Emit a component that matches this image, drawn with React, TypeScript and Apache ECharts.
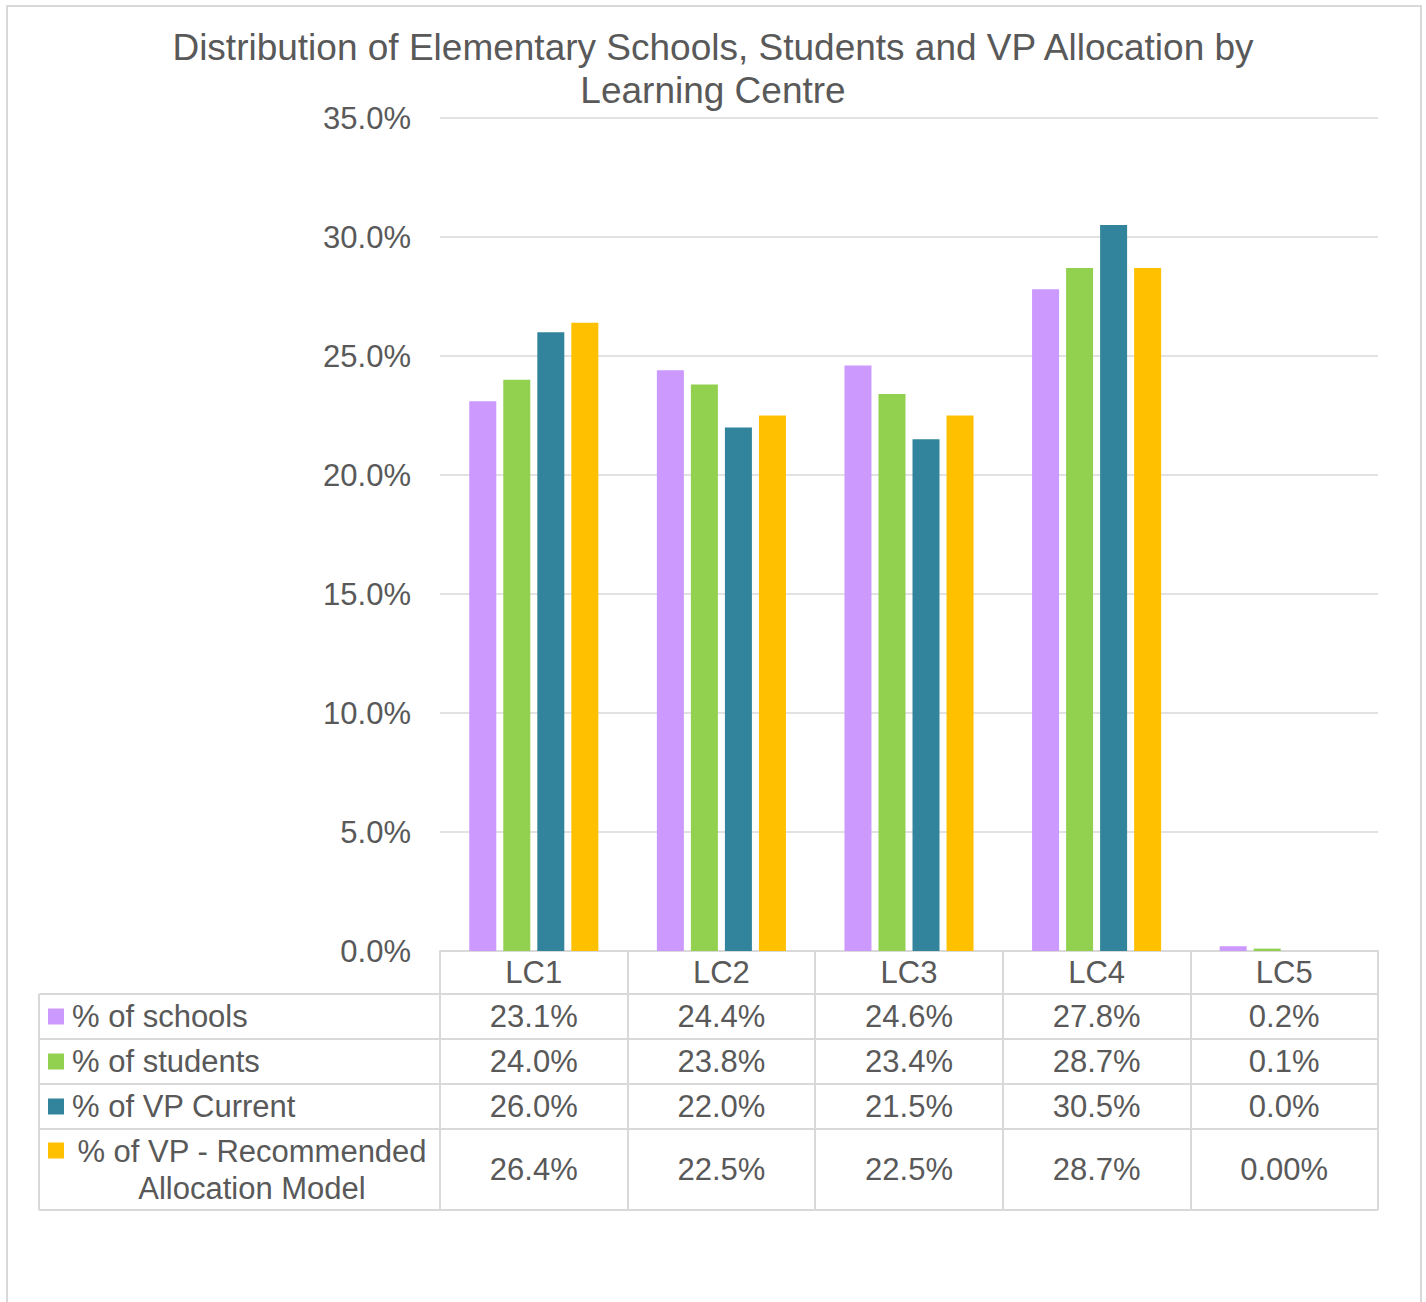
import React, { useEffect, useRef } from "react";
import * as echarts from "echarts";

const categories = ["LC1", "LC2", "LC3", "LC4", "LC5"];
const seriesNames = ["% of schools", "% of students", "% of VP Current", "% of VP - Recommended Allocation Model"];
const rowLabels = ["% of schools", "% of students", "% of VP Current", "% of VP - Recommended\nAllocation Model"];
const schools = [23.1, 24.4, 24.6, 27.8, 0.2];
const students = [24.0, 23.8, 23.4, 28.7, 0.1];
const vpCurrent = [26.0, 22.0, 21.5, 30.5, 0.0];
const vpRecommended = [26.4, 22.5, 22.5, 28.7, 0.0];
const rowDecimals = [
  [1, 1, 1, 1, 1],
  [1, 1, 1, 1, 1],
  [1, 1, 1, 1, 1],
  [1, 1, 1, 1, 2],
];
const colors = ["#CC99FF", "#92D050", "#31849B", "#FFC000"];
const yMin = 0;
const yMax = 35;
const yInterval = 5;

const FONT = "'Liberation Sans', Arial, sans-serif";
const TEXT = "#595959";
const LINE = "#D9D9D9";

export default function App() {
  const ref = useRef<HTMLDivElement>(null);
  useEffect(() => {
    if (!ref.current) return;
    const chart = echarts.init(ref.current, null, { renderer: "svg" });
    const seriesData = [schools, students, vpCurrent, vpRecommended];
    const gridLeft = 440;
    const gridRight = 1378;
    const axisY = 951;
    chart.setOption({
      animation: false,
      backgroundColor: "#fff",
      title: {
        text: "Distribution of Elementary Schools, Students and VP Allocation by\nLearning Centre",
        left: "center",
        top: 21,
        textStyle: { fontFamily: FONT, fontSize: 37, fontWeight: "normal", color: TEXT, lineHeight: 43 },
      },
      grid: { left: gridLeft, right: 1426 - gridRight, top: 118, bottom: 1302 - axisY, containLabel: false },
      xAxis: {
        type: "category",
        data: categories,
        axisLine: { show: true, lineStyle: { color: LINE, width: 2 } },
        axisTick: { show: true, length: 259, lineStyle: { color: LINE, width: 2 } },
        axisLabel: { fontFamily: FONT, fontSize: 31, color: TEXT, margin: 6, lineHeight: 31 },
      },
      yAxis: {
        type: "value",
        min: yMin,
        max: yMax,
        interval: yInterval,
        axisLine: { show: false },
        axisTick: { show: false },
        splitLine: { lineStyle: { color: LINE, width: 1.5 } },
        axisLabel: {
          fontFamily: FONT,
          fontSize: 31,
          color: TEXT,
          margin: 29,
          formatter: (v: number) => v.toFixed(1) + "%",
        },
      },
      series: seriesData.map((d, i) => ({
        type: "bar",
        name: seriesNames[i],
        data: d,
        barWidth: 27,
        barGap: "26%",
        itemStyle: { color: colors[i] },
      })),
    });

    const rowTops = [994, 1039, 1084, 1129];
    const tableBottom = 1210;
    const tableLeft = 39;
    const rowBottoms = [1039, 1084, 1129, tableBottom];
    const graphics: any[] = [];
    graphics.push({
      type: "rect",
      shape: { x: 7, y: 6, width: 1414, height: 1320 },
      style: { fill: "none", stroke: LINE, lineWidth: 2 },
      silent: true,
    });
    [...rowTops, tableBottom].forEach((y) => {
      graphics.push({
        type: "line",
        shape: { x1: tableLeft, y1: y, x2: gridRight, y2: y },
        style: { stroke: LINE, lineWidth: 2 },
      });
    });
    graphics.push({
      type: "line",
      shape: { x1: tableLeft, y1: rowTops[0], x2: tableLeft, y2: tableBottom },
      style: { stroke: LINE, lineWidth: 2 },
    });
    seriesData.forEach((d, r) => {
      const cy = (rowTops[r] + rowBottoms[r]) / 2;
      const multi = rowLabels[r].includes("\n");
      graphics.push({
        type: "rect",
        shape: { x: 48, y: multi ? cy - 27 : cy - 8, width: 16, height: 16 },
        style: { fill: colors[r] },
      });
      graphics.push({
        type: "text",
        x: multi ? 252 : 72,
        y: cy,
        style: {
          text: rowLabels[r],
          fontFamily: FONT,
          fontSize: 31,
          fill: TEXT,
          lineHeight: 37,
          textAlign: multi ? "center" : "left",
          textVerticalAlign: "middle",
        },
      });
      d.forEach((v, c) => {
        const px = chart.convertToPixel({ xAxisIndex: 0 }, categories[c]) as number;
        graphics.push({
          type: "text",
          x: px,
          y: cy,
          style: {
            text: v.toFixed(rowDecimals[r][c]) + "%",
            fontFamily: FONT,
            fontSize: 31,
            fill: TEXT,
            textAlign: "center",
            textVerticalAlign: "middle",
          },
        });
      });
    });
    chart.setOption({ graphic: graphics });
    return () => chart.dispose();
  }, []);
  return <div ref={ref} style={{ position: "fixed", left: 0, top: 0, width: 1426, height: 1302 }} />;
}
